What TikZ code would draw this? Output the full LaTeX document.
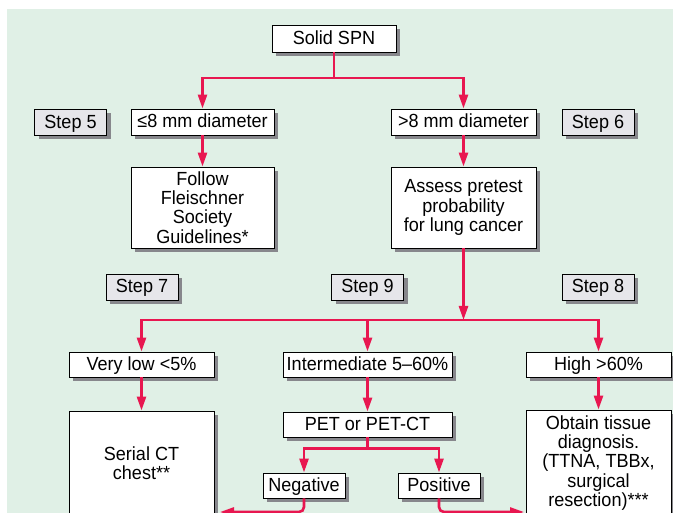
\documentclass[tikz,border=0pt]{standalone}
\usepackage{fontspec}
\setmainfont{Liberation Sans}[FakeStretch=0.95]
\usetikzlibrary{arrows.meta,shadows}
\definecolor{bggreen}{RGB}{224,240,230}
\definecolor{flowred}{RGB}{232,23,80}
\definecolor{stepgray}{RGB}{230,230,234}
\definecolor{shadowgray}{RGB}{135,135,140}
\begin{document}
\begin{tikzpicture}[x=1pt,y=-1pt,
  box/.style={draw=black, line width=0.9pt, fill=white, inner sep=0pt, align=center,
    font=\fontsize{19}{19.2}\selectfont,
    drop shadow={shadow xshift=4pt, shadow yshift=-4pt, fill=shadowgray, opacity=1}},
  oneline/.style={box, text height=14.5pt, text depth=2.5pt},
  stepbox/.style={oneline, fill=stepgray, minimum width=72pt, minimum height=26pt},
  flow/.style={draw=flowred, line width=2.6pt},
  arr/.style={flow, -{Triangle[length=14pt,width=9pt]}}
]
\useasboundingbox (0,0) rectangle (673,513);
\fill[white] (0,0) rectangle (673,513);
\fill[bggreen] (7,9) rectangle (673,513);

% nodes
\node[oneline, minimum width=124pt, minimum height=27pt] (spn) at (334,38.5) {Solid SPN};
\node[stepbox] (step5) at (70.5,122.5) {Step 5};
\node[oneline, minimum width=143pt, minimum height=26pt] (le8) at (202.5,122) {≤8 mm diameter};
\node[oneline, minimum width=145pt, minimum height=26pt] (gt8) at (463.5,122) {>8 mm diameter};
\node[stepbox] (step6) at (598,122.5) {Step 6};
\node[box, minimum width=143pt, minimum height=81pt] (follow) at (202.5,207.5) {Follow\\Fleischner\\Society\\Guidelines*};
\node[box, minimum width=145pt, minimum height=81pt] (assess) at (463.5,207.5) {Assess pretest\\probability\\for lung cancer};
\node[stepbox] (step7) at (142,287) {Step 7};
\node[stepbox] (step9) at (367.5,287) {Step 9};
\node[stepbox] (step8) at (598,287) {Step 8};
\node[oneline, minimum width=145pt, minimum height=25pt] (verylow) at (141.5,364.5) {Very low <5\%};
\node[oneline, minimum width=169pt, minimum height=25pt] (inter) at (367.5,364.5) {Intermediate 5–60\%};
\node[oneline, minimum width=145pt, minimum height=25pt] (high) at (598.5,364.5) {High >60\%};
\node[box, minimum width=145pt, minimum height=105pt] (serial) at (141.5,463.5) {Serial CT\\chest**};
\node[oneline, minimum width=169pt, minimum height=25pt] (pet) at (367.5,424.5) {PET or PET-CT};
\node[oneline, minimum width=82pt, minimum height=25pt] (neg) at (304,485.5) {Negative};
\node[oneline, minimum width=82pt, minimum height=25pt] (pos) at (439,485.5) {Positive};
\node[box, minimum width=145pt, minimum height=106pt] (obtain) at (598.5,463) {Obtain tissue\\diagnosis.\\(TTNA, TBBx,\\surgical\\resection)***};

% connectors
\draw[flow] (spn.south) -- ++(0,25.5) coordinate (j1);
\draw[arr] (j1) -| (le8.north);
\draw[arr] (j1) -| (gt8.north);
\draw[arr] (le8) -- (follow);
\draw[arr] (gt8) -- (assess);
\coordinate (j2) at (assess.south |- 0,320);
\draw[arr] (j2) -| (verylow.north);
\draw[arr] (j2) -| (inter.north);
\draw[arr] (j2) -| (high.north);
\draw[arr] (assess.south) -- (j2);
\draw[arr] (verylow) -- (serial);
\draw[arr] (inter) -- (pet);
\draw[arr] (high) -- (obtain);
\draw[flow] (pet.south) -- ++(0,11) coordinate (j3);
\draw[arr] (j3) -| (neg.north);
\draw[arr] (j3) -| (pos.north);
\coordinate (bl) at (220,512);
\coordinate (br) at (524,512);
\draw[arr, rounded corners=5pt] (neg.south) |- (bl);
\draw[arr, rounded corners=5pt] (pos.south) |- (br);
\end{tikzpicture}
\end{document}
